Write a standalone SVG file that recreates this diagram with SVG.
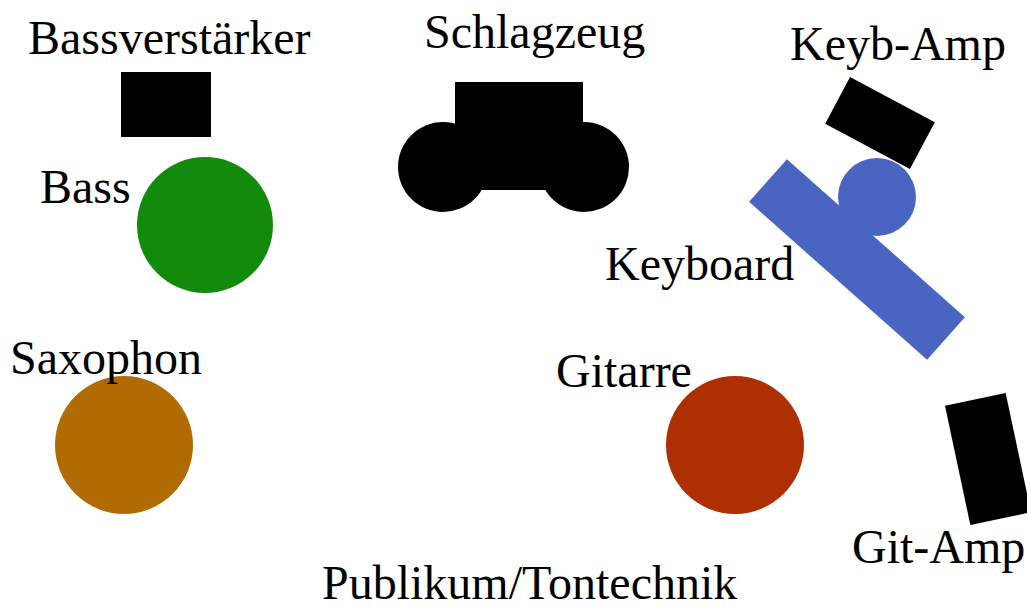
<svg xmlns="http://www.w3.org/2000/svg" width="1027" height="610" viewBox="0 0 1027 610">
<style>
text{font-family:"Liberation Serif","Times New Roman",serif;font-size:48px;fill:#000}
.amp{fill:#000}
</style>
<rect width="1027" height="610" fill="#fff"/>
<g id="bassamp">
<rect class="amp" x="121" y="72" width="90" height="65"/>
<text x="28" y="54">Bassverstärker</text>
</g>
<g id="bass">
<circle cx="205" cy="225" r="68" fill="#128A0C"/>
<text x="40" y="203">Bass</text>
</g>
<g id="drums">
<rect class="amp" x="455" y="82" width="128" height="108"/>
<circle class="amp" cx="443" cy="167" r="45"/>
<circle class="amp" cx="584" cy="167" r="45"/>
<text x="424" y="48">Schlagzeug</text>
</g>
<g id="keybamp">
<rect class="amp" x="-48" y="-26.5" width="96" height="53" transform="translate(880,123) rotate(28)"/>
<text x="790" y="60">Keyb-Amp</text>
</g>
<g id="keyboard">
<rect x="-119" y="-28.5" width="238" height="57" fill="#4A64C2" transform="translate(857,259.5) rotate(41.6)"/>
<circle cx="877" cy="197" r="39" fill="#4A64C2"/>
<text x="605" y="280">Keyboard</text>
</g>
<g id="saxophon">
<circle cx="124" cy="445" r="69" fill="#B06C02"/>
<text x="10" y="374">Saxophon</text>
</g>
<g id="gitarre">
<circle cx="735" cy="445" r="69" fill="#AE2F02"/>
<text x="556" y="387">Gitarre</text>
</g>
<g id="gitamp">
<rect class="amp" x="-31" y="-61" width="62" height="122" transform="translate(988,459) rotate(-12)"/>
<text x="852" y="563">Git-Amp</text>
</g>
<g id="publikum">
<text x="322" y="599">Publikum/Tontechnik</text>
</g>
<g id="connectors"/>
</svg>
